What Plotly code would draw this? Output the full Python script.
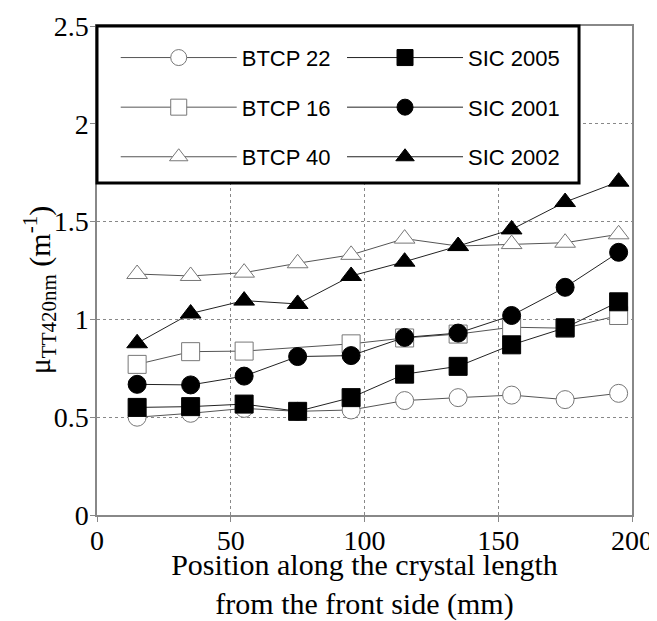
import plotly.graph_objects as go

positions = [15, 35, 55, 75, 95, 115, 135, 155, 175, 195]

btcp22 = [0.50, 0.52, 0.545, 0.53, 0.537, 0.585, 0.60, 0.613, 0.59, 0.622]
btcp16 = [0.77, 0.835, 0.838, None, 0.875, 0.905, 0.925, 0.96, 0.955, 1.02]
btcp40 = [1.232, 1.222, 1.239, 1.287, 1.33, 1.413, 1.375, 1.385, 1.392, 1.435]
sic2005 = [0.55, 0.554, 0.567, 0.53, 0.60, 0.72, 0.76, 0.87, 0.957, 1.09]
sic2001 = [0.668, 0.665, 0.71, 0.81, 0.815, 0.908, 0.93, 1.02, 1.164, 1.343]
sic2002 = [0.878, 1.03, 1.096, 1.079, 1.222, 1.295, 1.375, 1.46, 1.60, 1.704]

x_ticks = [0, 50, 100, 150, 200]
y_ticks = [0, 0.5, 1, 1.5, 2, 2.5]

series = [
    ("BTCP 22", btcp22, "circle", "white", "#777777", "#555555", "legend"),
    ("BTCP 16", btcp16, "square", "white", "#777777", "#555555", "legend"),
    ("BTCP 40", btcp40, "triangle-up", "white", "#777777", "#555555", "legend"),
    ("SIC 2005", sic2005, "square", "black", "black", "#222222", "legend2"),
    ("SIC 2001", sic2001, "circle", "black", "black", "#222222", "legend2"),
    ("SIC 2002", sic2002, "triangle-up", "black", "black", "#222222", "legend2"),
]

fig = go.Figure()
for name, vals, sym, fill, edge, lc, leg in series:
    fig.add_trace(go.Scatter(
        x=positions, y=vals, name=name, mode="lines+markers",
        connectgaps=True, legend=leg, legendgroup=name,
        line=dict(color=lc, width=1),
        marker=dict(symbol=sym, size=18, color=fill,
                    line=dict(color=edge, width=1)),
    ))

serif = "Liberation Serif, Times New Roman, serif"
sans = "Liberation Sans, Arial, sans-serif"

fig.update_layout(
    width=649, height=613,
    margin=dict(l=89, r=25, t=18, b=106, autoexpand=False),
    paper_bgcolor="white", plot_bgcolor="white",
    font=dict(family=serif, size=28, color="black"),
    xaxis=dict(
        range=[0, 200], tickvals=x_ticks, ticks="outside", ticklen=5,
        tickcolor="#888888", showline=True, linecolor="#888888", linewidth=1.5,
        mirror=True, showgrid=True, gridcolor="#888888", griddash="dot",
        gridwidth=1, zeroline=False, automargin=False,
        ticklabelstandoff=-5,
        tickfont=dict(family=serif, size=28),
        title=dict(text="Position along the crystal length<br>from the front side (mm)",
                   font=dict(family=serif, size=30), standoff=3),
    ),
    yaxis=dict(
        range=[0, 2.5], tickvals=y_ticks, ticks="outside", ticklen=5,
        tickcolor="#888888", showline=True, linecolor="#888888", linewidth=1.5,
        mirror=True, showgrid=True, gridcolor="#888888", griddash="dot",
        gridwidth=1, zeroline=False, automargin=False,
        ticklabelstandoff=-4,
        tickfont=dict(family=serif, size=28),
    ),
    annotations=[dict(
        text="μ<sub>TT420nm</sub> (m<sup>-1</sup>)", textangle=-90,
        xref="paper", yref="paper", x=-0.108, y=0.46,
        xanchor="center", yanchor="middle", showarrow=False,
        font=dict(family=serif, size=30, color="black"),
    )],
    legend=dict(
        x=0.035, y=0.978, xanchor="left", yanchor="top",
        bgcolor="rgba(0,0,0,0)", borderwidth=0,
        font=dict(family=sans, size=22, color="black"),
        tracegroupgap=18, itemwidth=116,
    ),
    legend2=dict(
        x=0.458, y=0.978, xanchor="left", yanchor="top",
        bgcolor="rgba(0,0,0,0)", borderwidth=0,
        font=dict(family=sans, size=22, color="black"),
        tracegroupgap=18, itemwidth=116,
    ),
    shapes=[dict(
        type="rect", xref="paper", yref="paper",
        x0=0, x1=0.901, y0=0.679, y1=1.0,
        line=dict(color="black", width=3), fillcolor="white", layer="above",
    )],
)

fig.write_html("out.html")
